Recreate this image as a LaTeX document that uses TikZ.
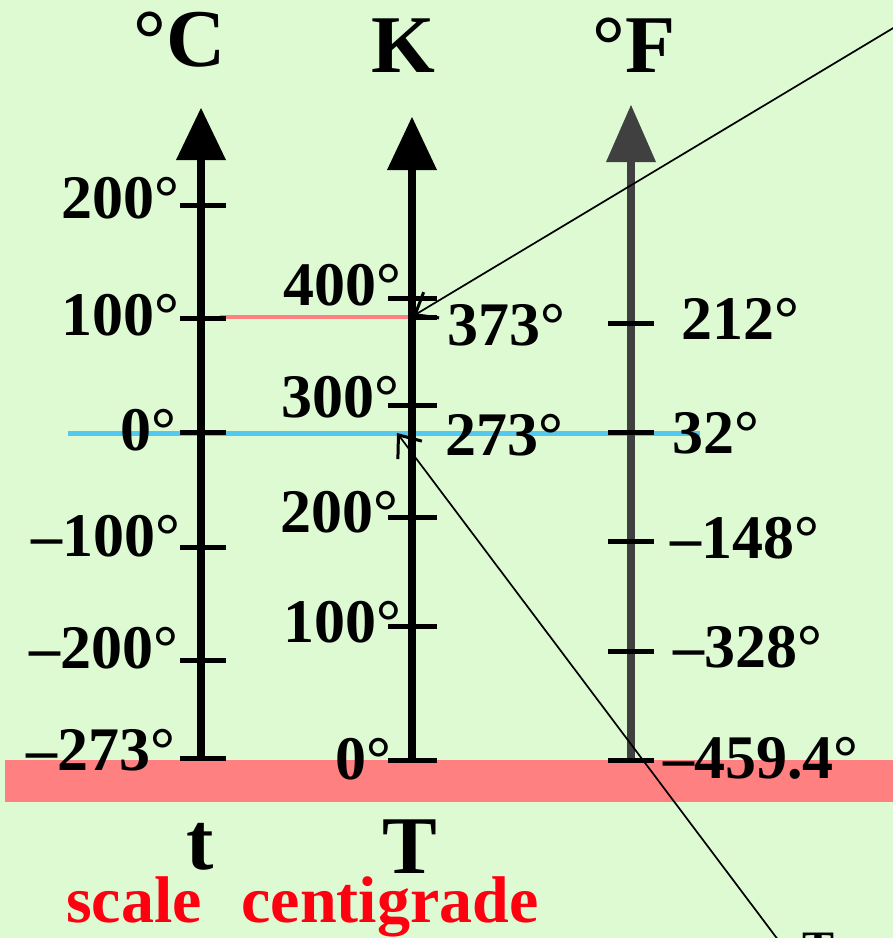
\documentclass[tikz,border=0pt]{standalone}
\usepackage{fontspec}
\setmainfont{Liberation Serif}
\usetikzlibrary{arrows.meta}
\definecolor{bg}{RGB}{221,250,211}
\definecolor{band}{RGB}{255,128,128}
\definecolor{iceblue}{RGB}{85,200,240}
\definecolor{axgray}{RGB}{64,64,64}
\definecolor{redtxt}{RGB}{255,0,16}
\tikzset{
  lbl/.style={inner sep=0pt, font=\fontsize{62}{70}\selectfont\bfseries},
  lblr/.style={lbl, anchor=base east},
  lbll/.style={lbl, anchor=base west},
  head/.style={inner sep=0pt, anchor=base, font=\fontsize{82}{90}\selectfont\bfseries},
  redword/.style={inner sep=0pt, anchor=base, text=redtxt, font=\fontsize{66}{72}\selectfont\bfseries},
  axisline/.style={line width=8pt},
  tickmark/.style={line width=5pt},
  pointer/.style={line width=1.7pt, -{Straight Barb[length=19pt,width=30pt,line width=3pt]}}
}
\begin{document}
\begin{tikzpicture}[x=1pt,y=-1pt]
\useasboundingbox (0,0) rectangle (893,938);
\fill[bg] (0,0) rectangle (893,938);
% band at absolute zero
\fill[band] (5,760) rectangle (893,802);
% freezing / boiling lines
\draw[line width=5pt, iceblue] (68,433) -- (700,433);
\draw[line width=4.5pt, band] (220,317) -- (412,317);
% axes
\coordinate (c0) at (201,760); \coordinate (ctop) at (201,158);
\coordinate (k0) at (412,760); \coordinate (ktop) at (412,168);
\coordinate (f0) at (631,760); \coordinate (ftop) at (631,160);
\draw[axisline] (c0) -- (ctop);
\draw[axisline] (k0) -- (ktop);
\draw[axisline, axgray] (f0) -- (ftop);
\fill (201,108) -- (226,160) -- (176,160) -- cycle;
\fill (412,117) -- (437,170) -- (387,170) -- cycle;
\fill[axgray] (631,105) -- (656,162) -- (606,162) -- cycle;
% ticks Celsius
\foreach \y in {205,318,432,547,660,758} \draw[tickmark] (180,\y) -- (226,\y);
% ticks Kelvin
\foreach \y in {298,405,517,626,760} \draw[tickmark] (388,\y) -- (437,\y);
\draw[tickmark] (412,317) -- (437,317);
% ticks Fahrenheit
\foreach \y in {323,432,541,651,760} \draw[tickmark] (608,\y) -- (654,\y);
% headers
\node[head] (hc) at (180,66) {°C};
\node[head] (hk) at (403,72) {K};
\node[head] (hf) at (634,72) {°F};
% Celsius labels
\node[lblr] (c200) at (179,218) {200°};
\node[lblr] (c100) at (179,335) {100°};
\node[lblr] (c0l) at (176,450) {0°};
\node[lblr] (cm100) at (180,556) {–100°};
\node[lblr] (cm200) at (178,668) {–200°};
\node[lblr] (cm273) at (175,770) {–273°};
% Kelvin labels
\node[lblr] (k400) at (401,305) {400°};
\node[lblr] (k300) at (399,417) {300°};
\node[lblr] (k200) at (398,532) {200°};
\node[lblr] (k100) at (401,642) {100°};
\node[lblr] (k0l) at (391,779) {0°};
\node[lbll] (k373) at (447,345) {373°};
\node[lbll] (k273) at (445,455) {273°};
% Fahrenheit labels
\node[lbll] (f212) at (681,339) {212°};
\node[lbll] (f32) at (672,453) {32°};
\node[lbll] (fm148) at (670,558) {–148°};
\node[lbll] (fm328) at (673,667) {–328°};
\node[lbll] (fm459) at (663,778) {–459.4°};
% bottom symbols
\node[head] (tl) at (200,869) {t};
\node[head] (TT) at (410,873) {T};
\node[redword] (sc) at (134,922) {scale};
\node[redword] (cg) at (390,922) {centigrade};
% pointers
\coordinate (p1) at (940,0);
\coordinate (a1) at (413,316);
\coordinate (p2) at (800,969);
\coordinate (a2) at (397,433);
\draw[pointer] (p1) -- (a1);
\draw[pointer] (p2) -- (a2);
\node[inner sep=0pt, anchor=base west, font=\fontsize{48}{54}\selectfont\bfseries] (tp) at (802,964) {T};
\end{tikzpicture}
\end{document}
